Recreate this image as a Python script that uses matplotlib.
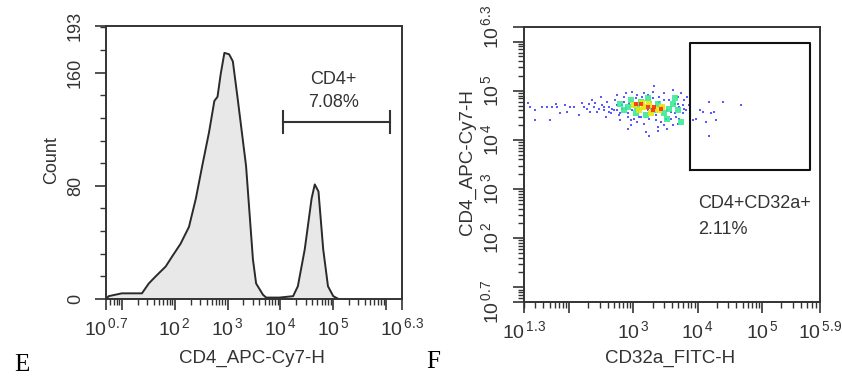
import matplotlib
matplotlib.use('Agg')
import matplotlib.pyplot as plt
import numpy as np
from matplotlib.ticker import LogLocator, NullFormatter, MultipleLocator

plt.rcParams['font.family'] = ['Liberation Sans', 'DejaVu Sans']
plt.rcParams['mathtext.fontset'] = 'custom'
plt.rcParams['mathtext.rm'] = 'Liberation Sans'
plt.rcParams['mathtext.it'] = 'Liberation Sans'
plt.rcParams['mathtext.default'] = 'regular'

# panel E: CD4 histogram (log10 of intensity, count)
hist_exp = [0.70, 0.75, 1.00, 1.06, 1.38, 1.51, 1.64, 1.83, 1.95, 2.11, 2.27, 2.40,
            2.52, 2.65, 2.75, 2.81, 2.87, 2.94, 3.03, 3.10, 3.19, 3.35, 3.48, 3.54,
            3.67, 3.73, 3.98, 4.24, 4.33, 4.46, 4.59, 4.65, 4.72, 4.81, 4.90, 5.00, 5.10]
hist_count = [0, 2, 4, 4, 4, 11, 16, 23, 30, 39, 51, 71,
              94, 118, 140, 143, 159, 174, 173, 168, 142, 94, 28, 11,
              3, 1, 1, 2, 9, 35, 71, 81, 76, 35, 9, 2, 0]
gate_e = [4.04, 6.08]
gate_e_count = 125
gate_e_text = ['CD4+', '7.08%']

# panel F: dot plot, log10 values grouped by density colour
blue_x = [1.37, 1.40, 1.47, 1.47, 1.58, 1.66, 1.73, 1.79, 1.81, 1.71, 1.86, 1.94, 2.02, 2.07,
          1.97, 2.15, 2.20, 2.23, 2.28, 2.31, 2.33, 2.36, 2.41, 2.44, 2.49, 2.52, 2.54, 2.57,
          2.59, 2.62, 2.65, 2.70, 2.72, 2.75, 2.75, 2.78, 2.80, 2.83, 2.85, 2.88, 2.91, 2.91,
          2.96, 2.98, 3.01, 3.04, 3.06, 3.09, 3.12, 3.14, 3.17, 3.19, 3.22, 3.25, 3.27, 3.30,
          3.32, 3.35, 3.38, 3.40, 3.43, 3.45, 3.48, 3.51, 3.53, 3.56, 3.58, 3.61, 3.64, 3.66,
          3.69, 3.71, 3.74, 3.77, 3.79, 3.82, 3.84, 3.87, 3.92, 3.97, 4.03, 4.08, 4.13, 4.18,
          4.21, 4.26, 4.18, 4.29, 4.39, 4.68,
          2.75, 2.80, 2.85, 2.91, 2.93, 2.98, 3.06, 3.12, 3.17, 3.25, 3.30, 3.35, 3.40, 3.48,
          3.53, 3.58, 3.64, 3.69, 3.71, 3.77, 3.79, 3.01, 2.96, 3.48, 3.38, 3.61, 3.69, 3.22,
          2.83, 2.67, 2.62, 2.54, 2.46, 2.39]
blue_y = [4.76, 4.67, 4.61, 4.41, 4.67, 4.67, 4.67, 4.73, 4.67, 4.41, 4.54, 4.72, 4.67, 4.67,
          4.57, 4.50, 4.76, 4.67, 4.64, 4.74, 4.57, 4.81, 4.76, 4.57, 4.87, 4.71, 4.61, 4.47,
          4.78, 4.67, 4.54, 4.61, 4.81, 4.92, 4.71, 4.50, 4.40, 4.64, 4.78, 4.95, 4.54, 4.23,
          4.40, 4.98, 4.67, 4.85, 4.36, 4.47, 4.71, 4.88, 4.33, 4.16, 4.61, 4.09, 4.78, 4.98,
          5.10, 4.50, 4.19, 4.88, 4.36, 4.67, 4.95, 4.43, 4.23, 4.81, 4.57, 5.02, 4.74, 4.47,
          4.88, 4.67, 4.95, 4.54, 4.81, 4.61, 4.88, 4.71, 4.40, 4.43, 4.61, 4.57, 4.36, 4.78,
          4.54, 4.57, 4.07, 4.40, 4.78, 4.71,
          4.61, 4.54, 4.88, 4.47, 4.74, 4.61, 4.92, 4.47, 4.95, 4.43, 4.85, 4.40, 4.78, 4.81,
          4.61, 4.43, 4.54, 4.74, 4.43, 4.71, 4.64, 4.43, 4.30, 4.30, 4.27, 4.30, 4.33, 4.92,
          4.71, 4.64, 4.57, 4.67, 4.64, 4.67]
green_x = [2.80, 2.85, 2.96, 3.04, 3.12, 3.19, 3.30, 3.38, 3.48, 3.56, 3.61, 3.69, 3.74,
           3.06, 3.22, 3.64, 2.91, 3.53]
green_y = [4.74, 4.61, 4.81, 4.54, 4.78, 4.50, 4.61, 4.74, 4.54, 4.64, 4.74, 4.61, 4.36,
           4.67, 4.85, 4.85, 4.67, 4.43]
yellow_x = [3.01, 3.09, 3.17, 3.25, 3.32, 3.14, 3.40, 3.27, 3.45]
yellow_y = [4.71, 4.61, 4.67, 4.74, 4.64, 4.76, 4.61, 4.54, 4.67]
red_x = [3.12, 3.22, 3.32, 3.30, 3.43, 3.04]
red_y = [4.73, 4.67, 4.67, 4.61, 4.64, 4.74]
gate_f_x = [3.88, 5.74]
gate_f_y = [3.39, 5.97]
gate_f_text = ['CD4+CD32a+', '2.11%']

ink = '#333333'


def pw(e):
    return r'$10^{\,%s}$' % e


def style_axes(ax):
    for sp in ax.spines.values():
        sp.set_linewidth(1.4)
        sp.set_color(ink)
    ax.tick_params(which='major', direction='out', length=8, width=1.2, color=ink,
                   labelsize=14, labelcolor=ink)
    ax.tick_params(which='minor', direction='out', length=4, width=1.0, color=ink)


def log_ticks(axis, exps, labels):
    axis.set_ticks([10.0 ** e for e in exps])
    axis.set_ticklabels(labels)
    axis.set_minor_locator(LogLocator(base=10, subs=np.arange(2, 10), numticks=30))
    axis.set_minor_formatter(NullFormatter())


fig = plt.figure(figsize=(8.42, 3.79), dpi=100)

# ---- E ----
ax1 = fig.add_axes([0.1259, 0.2111, 0.3515, 0.7203])
hx = 10.0 ** np.array(hist_exp)
ax1.fill_between(hx, hist_count, color='#e8e8e8', lw=0)
ax1.plot(hx, hist_count, color='#2a2a2a', lw=1.4)
ax1.set_xscale('log')
ax1.set_xlim(10 ** 0.7, 10 ** 6.3)
ax1.set_ylim(0, 193)
log_ticks(ax1.xaxis, [0.7, 1, 2, 3, 4, 5, 6, 6.3],
          [pw('0.7'), '', pw(2), pw(3), pw(4), pw(5), '', pw('6.3')])
ax1.set_yticks([0, 80, 160, 193])
ax1.set_yticklabels(['0', '80', '160', '193'], rotation=90, va='center')
ax1.yaxis.set_minor_locator(MultipleLocator(16))
style_axes(ax1)
ax1.tick_params(axis='y', labelsize=13)
ax1.tick_params(axis='x', pad=5)
ax1.tick_params(axis='y', pad=8)

g0, g1 = 10 ** gate_e[0], 10 ** gate_e[1]
ax1.plot([g0, g1], [gate_e_count, gate_e_count], color=ink, lw=1.5)
ax1.plot([g0, g0], [gate_e_count - 8, gate_e_count + 8], color=ink, lw=1.5)
ax1.plot([g1, g1], [gate_e_count - 8, gate_e_count + 8], color=ink, lw=1.5)
ax1.text(10 ** 5.0, 155, gate_e_text[0], ha='center', va='center', fontsize=13, color=ink)
ax1.text(10 ** 5.0, 139, gate_e_text[1], ha='center', va='center', fontsize=13, color=ink)

# ---- F ----
ax2 = fig.add_axes([0.6223, 0.2032, 0.3515, 0.7256])
ax2.scatter(10.0 ** np.array(blue_x), 10.0 ** np.array(blue_y), s=4.5, marker='s',
            color='#1414ff', alpha=0.7, lw=0)
ax2.scatter(10.0 ** np.array(green_x), 10.0 ** np.array(green_y), s=14, marker='s',
            color='#30e890', alpha=0.85, lw=0)
ax2.scatter(10.0 ** np.array(yellow_x), 10.0 ** np.array(yellow_y), s=14, marker='s',
            color='#e6e610', alpha=0.9, lw=0)
ax2.scatter(10.0 ** np.array(red_x), 10.0 ** np.array(red_y), s=7, marker='s',
            color='#ff3010', alpha=0.9, lw=0)
ax2.set_xscale('log')
ax2.set_yscale('log')
ax2.set_xlim(10 ** 1.3, 10 ** 5.9)
ax2.set_ylim(10 ** 0.7, 10 ** 6.3)
log_ticks(ax2.xaxis, [1.3, 2, 3, 4, 5, 5.9],
          [pw('1.3'), '', pw(3), pw(4), pw(5), pw('5.9')])
log_ticks(ax2.yaxis, [0.7, 1, 2, 3, 4, 5, 6, 6.3],
          [pw('0.7'), '', pw(2), pw(3), pw(4), pw(5), '', pw('6.3')])
for lab in ax2.get_yticklabels():
    lab.set_rotation(90)
    lab.set_va('center')
style_axes(ax2)
ax2.tick_params(axis='x', pad=5)
ax2.tick_params(axis='y', pad=8)

gx0, gx1 = 10 ** gate_f_x[0], 10 ** gate_f_x[1]
gy0, gy1 = 10 ** gate_f_y[0], 10 ** gate_f_y[1]
ax2.plot([gx0, gx1, gx1, gx0, gx0], [gy0, gy0, gy1, gy1, gy0], color='#111111', lw=1.5)
ax2.text(10 ** 4.0, 10 ** 2.70, gate_f_text[0], ha='left', va='center', fontsize=13, color=ink)
ax2.text(10 ** 4.0, 10 ** 2.18, gate_f_text[1], ha='left', va='center', fontsize=13, color=ink)

# axis titles and panel letters
fig.text(0.0618, 0.578, 'Count', rotation=90, ha='center', va='center', fontsize=13, color=ink)
fig.text(0.2993, 0.0554, 'CD4_APC-Cy7-H', ha='center', va='center', fontsize=13.5, color=ink)
fig.text(0.5546, 0.5726, 'CD4_APC-Cy7-H', rotation=90, ha='center', va='center',
         fontsize=13.5, color=ink)
fig.text(0.7957, 0.0554, 'CD32a_FITC-H', ha='center', va='center', fontsize=13.5, color=ink)
fig.text(0.0261, 0.0369, 'E', ha='center', va='center', fontsize=18, family='Liberation Serif')
fig.text(0.5143, 0.0449, 'F', ha='center', va='center', fontsize=18, family='Liberation Serif')

fig.savefig('out.png', dpi=100)
